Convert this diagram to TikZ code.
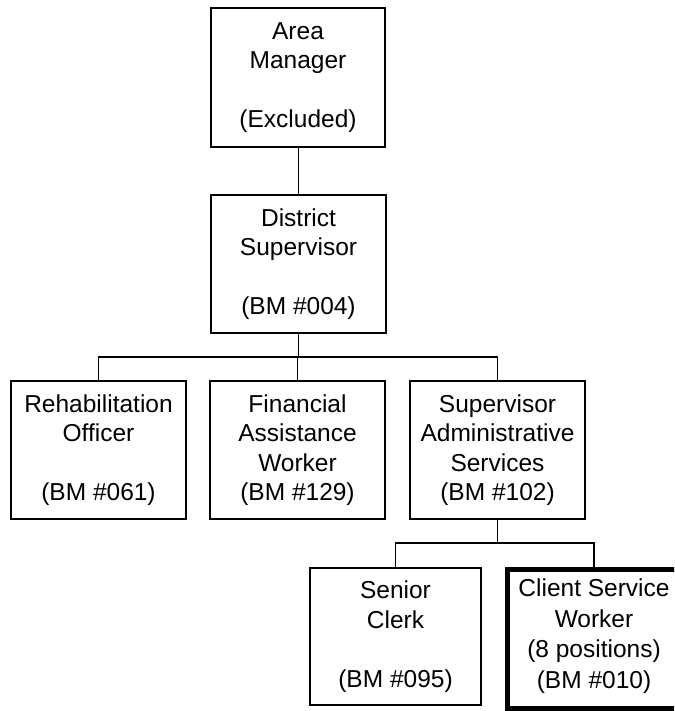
\documentclass[tikz,border=0pt]{standalone}
\usepackage{fontspec}
\setmainfont{Liberation Sans}
\begin{document}
\begin{tikzpicture}[x=1pt,y=-1pt,
  post/.style={draw=black, line width=1.8pt, inner sep=0pt, align=center,
    font=\fontsize{24.5}{29.5}\selectfont, minimum width=175pt, minimum height=138pt},
  keypost/.style={post, line width=5pt, font=\fontsize{24.5}{30.5}\selectfont, text depth=11pt},
  link/.style={draw=black, line width=1.8pt}]
\useasboundingbox (0,0) rectangle (674,711);
\clip (0,0) rectangle (674,711);
\fill[white] (0,0) rectangle (674,711);

% top of the hierarchy
\node[post, minimum width=174pt, minimum height=139pt] (am) at (298,77.5)
  {Area\\Manager\\[29.5pt](Excluded)};
\node[post] (ds) at (298.5,264) {District\\Supervisor\\[29.5pt] (BM \#004)};

% second level
\node[post] (ro) at (98.5,450) {Rehabilitation\\Officer\\[29.5pt](BM \#061)};
\node[post] (fa) at (297.5,450) {Financial\\Assistance\\Worker\\(BM \#129)};
\node[post] (sa) at (497.5,450) {Supervisor\\Administrative\\Services\\(BM \#102)};

% third level
\node[post, minimum width=171pt, minimum height=137pt] (sc) at (395.5,636.5)
  {Senior\\Clerk\\[29.5pt](BM \#095)};
\node[keypost, minimum width=173.5pt, minimum height=139pt] (cs) at (594,639)
  {Client Service\\Worker\\(8 positions)\\(BM \#010)};

% connectors
\coordinate (bus1) at (298,357);
\coordinate (bus2) at (396,543);
\draw[link] (am.south) -- (ds.south |- am.south) -- (ds.north);
\draw[link] (ds.south) -- (ds.south |- bus1);
\draw[link] (ro.north) |- (bus1) -| (sa.north);
\draw[link] (fa.north) -- (fa.north |- bus1);
\draw[link] (sa.south) -- (sa.south |- bus2);
\draw[link] (sc.north) |- (bus2) -| (cs.north);
\end{tikzpicture}
\end{document}
